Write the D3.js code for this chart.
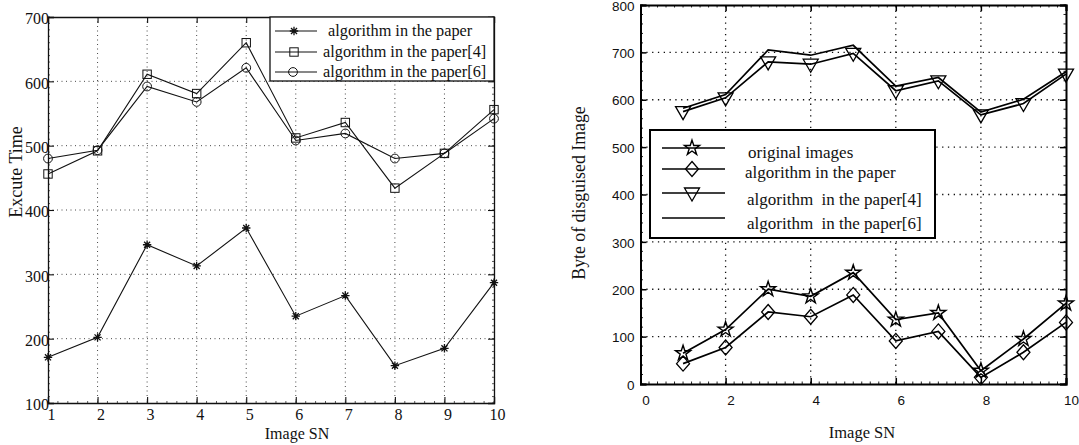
<!DOCTYPE html>
<html><head><meta charset="utf-8">
<script src="https://cdn.jsdelivr.net/npm/d3@7"></script>
<style>
body{margin:0;background:#fff;}
svg{display:block;}
text{white-space:pre;}
</style></head>
<body>
<svg id="c" width="1079" height="445"></svg>
<script>
// ---------- data ----------
const imageSN = [1,2,3,4,5,6,7,8,9,10];
// Left chart: execute time
const execPaper  = [171,202,346,313,372,235,267,158,185,287];
const execPaper4 = [456,492,611,581,660,512,536,434,488,556];
const execPaper6 = [480,493,592,568,621,508,519,480,488,542];
const leftYTicks = [100,200,300,400,500,600,700];
const leftXTicks = [1,2,3,4,5,6,7,8,9,10];
const leftLegend = ["algorithm in the paper","algorithm in the paper[4]","algorithm in the paper[6]"];
// Right chart: bytes of disguised image
const byteOriginal = [65,115,200,185,235,136,150,28,95,170];
const bytePaper    = [43,77,152,142,188,91,111,14,67,130];
const bytePaper4   = [575,604,680,675,698,619,640,568,592,654];
const bytePaper6   = [582,611,705,694,715,629,647,574,601,659];
const rightYTicks = [0,100,200,300,400,500,600,700,800];
const rightXTicks = [0,2,4,6,8,10];
const rightLegend = ["original images","algorithm in the paper","algorithm  in the paper[4]","algorithm  in the paper[6]"];

const svg = d3.select("#c");
const SERIF = "'Liberation Serif','Times New Roman',serif";
const SANS = "'Liberation Sans',Arial,sans-serif";

// ---------- marker helpers ----------
function asterisk(g, x, y, s){
  const p = d3.path();
  p.moveTo(x-s,y);p.lineTo(x+s,y);
  p.moveTo(x,y-s);p.lineTo(x,y+s);
  const d=s*0.72;
  p.moveTo(x-d,y-d);p.lineTo(x+d,y+d);
  p.moveTo(x-d,y+d);p.lineTo(x+d,y-d);
  g.append("path").attr("d",p.toString()).attr("stroke","#111").attr("stroke-width",1.3).attr("fill","none");
}
function square(g,x,y,s){
  g.append("rect").attr("x",x-s).attr("y",y-s).attr("width",2*s).attr("height",2*s)
   .attr("fill","none").attr("stroke","#111").attr("stroke-width",1);
}
function circle(g,x,y,r){
  g.append("circle").attr("cx",x).attr("cy",y).attr("r",r).attr("fill","none").attr("stroke","#111").attr("stroke-width",1);
}
function triDown(g,x,y,s){
  g.append("path").attr("d",`M${x-s},${y-5}L${x+s},${y-5}L${x},${y+8}Z`)
   .attr("fill","none").attr("stroke","#000").attr("stroke-width",1.3);
}
function diamond(g,x,y,w,h){
  g.append("path").attr("d",`M${x},${y-h}L${x+w},${y}L${x},${y+h}L${x-w},${y}Z`)
   .attr("fill","none").attr("stroke","#000").attr("stroke-width",1.3);
}
function star(g,x,y,size){
  g.append("path").attr("d",d3.symbol(d3.symbolStar,size)()).attr("transform",`translate(${x},${y})`)
   .attr("fill","none").attr("stroke","#000").attr("stroke-width",1.4);
}
function minorTicks(g, scale, vals, orient, pos, len, color, w){
  vals.forEach(v=>{
    const p=scale(v);
    const ln=g.append("line").attr("stroke",color).attr("stroke-width",w);
    if(orient==="b") ln.attr("x1",p).attr("x2",p).attr("y1",pos).attr("y2",pos-len);
    if(orient==="t") ln.attr("x1",p).attr("x2",p).attr("y1",pos).attr("y2",pos+len);
    if(orient==="l") ln.attr("y1",p).attr("y2",p).attr("x1",pos).attr("x2",pos+len);
    if(orient==="r") ln.attr("y1",p).attr("y2",p).attr("x1",pos).attr("x2",pos-len);
  });
}

// ================= LEFT CHART =================
{
  const L=48,R=494,T=17,B=403;
  const x=d3.scaleLinear().domain([1,10]).range([L,R]);
  const y=d3.scaleLinear().domain([100,700]).range([B,T]);
  const g=svg.append("g");
  // grid
  g.selectAll(".gx").data(leftXTicks.slice(1,-1)).enter().append("line")
   .attr("x1",d=>x(d)).attr("x2",d=>x(d)).attr("y1",T).attr("y2",B)
   .attr("stroke","#333").attr("stroke-width",0.9).attr("stroke-dasharray","1,3.5");
  g.selectAll(".gy").data(leftYTicks.slice(1,-1)).enter().append("line")
   .attr("x1",L).attr("x2",R).attr("y1",d=>y(d)).attr("y2",d=>y(d))
   .attr("stroke","#333").attr("stroke-width",0.9).attr("stroke-dasharray","1,3.5");
  // minor ticks
  const mx=d3.range(1,10.001,0.2), my=d3.range(100,700.001,10);
  minorTicks(g,x,mx,"b",B,2,"#333",0.8);
  minorTicks(g,y,my,"l",L,2,"#333",0.8);
  minorTicks(g,y,my,"r",R,2,"#333",0.8);
  // axes
  const ax=d3.axisBottom(x).tickValues(leftXTicks).tickSize(-6).tickPadding(8).tickFormat(d3.format("d"));
  const gx=g.append("g").attr("transform",`translate(0,${B})`).call(ax);
  const ay=d3.axisLeft(y).tickValues(leftYTicks).tickSize(-6).tickPadding(-1).tickFormat(d3.format("d"));
  const gy=g.append("g").attr("transform",`translate(${L},0)`).call(ay);
  const axT=d3.axisTop(x).tickValues(leftXTicks).tickSize(-6).tickFormat("");
  const gt=g.append("g").attr("transform",`translate(0,${T})`).call(axT);
  const axR=d3.axisRight(y).tickValues(leftYTicks).tickSize(-6).tickFormat("");
  const gr=g.append("g").attr("transform",`translate(${R},0)`).call(axR);
  [gx,gy,gt,gr].forEach(a=>{
    a.select(".domain").attr("stroke","#111").attr("stroke-width",1.3);
    a.selectAll(".tick line").attr("stroke","#111").attr("stroke-width",1.1);
    a.selectAll("text").attr("font-family",SERIF).attr("font-size",16).attr("fill","#111");
  });
  gx.selectAll("text").attr("dy","0.55em").attr("dx",3);
  gy.selectAll("text").attr("dy","0.42em");
  // titles
  g.append("text").attr("x",297).attr("y",439).attr("text-anchor","middle")
   .attr("font-family",SERIF).attr("font-size",16).attr("fill","#111").text("Image SN");
  g.append("text").attr("transform",`translate(22,172) rotate(-90)`).attr("text-anchor","middle")
   .attr("font-family",SERIF).attr("font-size",18).attr("fill","#111").text("Excute Time");
  // lines
  const line=d3.line().x((d,i)=>x(imageSN[i])).y(d=>y(d));
  [execPaper4,execPaper6,execPaper].forEach(s=>{
    g.append("path").attr("d",line(s)).attr("fill","none").attr("stroke","#111").attr("stroke-width",1.1);
  });
  execPaper.forEach((d,i)=>asterisk(g,x(imageSN[i]),y(d),4.2));
  execPaper4.forEach((d,i)=>square(g,x(imageSN[i]),y(d),4.2));
  execPaper6.forEach((d,i)=>circle(g,x(imageSN[i]),y(d),4.4));
  // legend
  const lg=g.append("g");
  lg.append("rect").attr("x",270).attr("y",T).attr("width",R-270).attr("height",64)
   .attr("fill","#fff").attr("stroke","#111").attr("stroke-width",1.3);
  const rowsY=[31,52,72];
  leftLegend.forEach((t,i)=>{
    const yy=rowsY[i];
    lg.append("line").attr("x1",275).attr("x2",317).attr("y1",yy).attr("y2",yy).attr("stroke","#111").attr("stroke-width",1.1);
    if(i===0) asterisk(lg,294,yy,4.2);
    if(i===1) square(lg,294,yy,4.2);
    if(i===2) circle(lg,293,yy,4.4);
    lg.append("text").attr("x",i===0?328:323).attr("y",yy+5).attr("font-family",SERIF).attr("font-size",16.3).attr("fill","#111").text(t);
  });
}

// ================= RIGHT CHART =================
{
  const L=640.5,R=1066,T=5,B=384;
  const x=d3.scaleLinear().domain([0,10]).range([L,R]);
  const y=d3.scaleLinear().domain([0,800]).range([B,T]);
  const g=svg.append("g");
  g.selectAll(".gx").data(rightXTicks.slice(1,-1)).enter().append("line")
   .attr("x1",d=>x(d)).attr("x2",d=>x(d)).attr("y1",T).attr("y2",B)
   .attr("stroke","#111").attr("stroke-width",1.3).attr("stroke-dasharray","1.3,4.5");
  g.selectAll(".gy").data(rightYTicks.slice(1,-1)).enter().append("line")
   .attr("x1",L).attr("x2",R).attr("y1",d=>y(d)).attr("y2",d=>y(d))
   .attr("stroke","#111").attr("stroke-width",1.3).attr("stroke-dasharray","1.3,4.5");
  const mx=d3.range(0,10.001,0.2), my=d3.range(0,800.001,20);
  minorTicks(g,x,mx,"b",B,2.5,"#222",1);
  minorTicks(g,x,mx,"t",T,2.5,"#222",1);
  minorTicks(g,y,my,"l",L,2.5,"#222",1);
  minorTicks(g,y,my,"r",R,2.5,"#222",1);
  const ax=d3.axisBottom(x).tickValues(rightXTicks).tickSize(-6).tickPadding(11).tickFormat(d3.format("d"));
  const gx=g.append("g").attr("transform",`translate(0,${B})`).call(ax);
  const ay=d3.axisLeft(y).tickValues(rightYTicks).tickSize(-6).tickPadding(6).tickFormat(d3.format("d"));
  const gy=g.append("g").attr("transform",`translate(${L},0)`).call(ay);
  const axT=d3.axisTop(x).tickValues(rightXTicks).tickSize(-6).tickFormat("");
  const gt=g.append("g").attr("transform",`translate(0,${T})`).call(axT);
  const axR=d3.axisRight(y).tickValues(rightYTicks).tickSize(-6).tickFormat("");
  const gr=g.append("g").attr("transform",`translate(${R},0)`).call(axR);
  [gx,gy,gt,gr].forEach(a=>{
    a.select(".domain").attr("stroke","#000").attr("stroke-width",2);
    a.selectAll(".tick line").attr("stroke","#000").attr("stroke-width",1.5);
    a.selectAll("text").attr("font-family",SANS).attr("font-size",13.5).attr("fill","#111");
  });
  gx.selectAll("text").attr("dx",5);
  gy.selectAll("text").attr("dy","0.38em");
  g.append("text").attr("x",862).attr("y",438).attr("text-anchor","middle")
   .attr("font-family",SERIF).attr("font-size",16.5).attr("fill","#111").text("Image SN");
  g.append("text").attr("transform",`translate(585,193) rotate(-90)`).attr("text-anchor","middle")
   .attr("font-family",SERIF).attr("font-size",17.8).attr("fill","#111").text("Byte of disguised Image");
  const line=d3.line().x((d,i)=>x(imageSN[i])).y(d=>y(d));
  [bytePaper6,bytePaper4,byteOriginal,bytePaper].forEach(s=>{
    g.append("path").attr("d",line(s)).attr("fill","none").attr("stroke","#000").attr("stroke-width",1.7);
  });
  bytePaper4.forEach((d,i)=>triDown(g,x(imageSN[i]),y(d),7.5));
  bytePaper.forEach((d,i)=>diamond(g,x(imageSN[i]),y(d),6.5,7.5));
  byteOriginal.forEach((d,i)=>star(g,x(imageSN[i]),y(d),70));
  // legend
  const lg=g.append("g");
  lg.append("rect").attr("x",650).attr("y",130).attr("width",285).attr("height",108)
   .attr("fill","#fff").attr("stroke","#000").attr("stroke-width",2);
  const rowsY=[148,169,193,218];
  const textX=[748,745,747,747];
  rightLegend.forEach((t,i)=>{
    const yy=rowsY[i];
    lg.append("line").attr("x1",662).attr("x2",725).attr("y1",yy).attr("y2",yy).attr("stroke","#000").attr("stroke-width",1.7);
    if(i===0) star(lg,692,yy,70);
    if(i===1) diamond(lg,692,yy,6.5,7.5);
    if(i===2) triDown(lg,692,yy,7.5);
    lg.append("text").attr("x",textX[i]).attr("y",yy+[10,9,12,11][i]).attr("font-family",SERIF).attr("font-size",17).attr("fill","#111").text(t);
  });
}
</script>
</body></html>
